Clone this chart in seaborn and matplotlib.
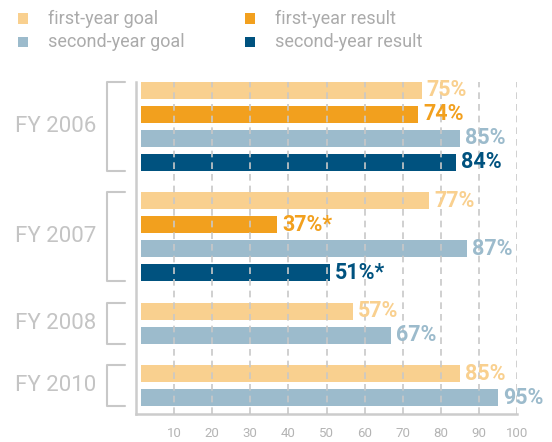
import matplotlib
matplotlib.use('Agg')
import matplotlib.pyplot as plt
import pandas as pd
import seaborn as sns

# chart values
groups = ['FY 2006', 'FY 2007', 'FY 2008', 'FY 2010']
first_goal = [75, 77, 57, 85]
first_result = [74, 37, None, None]
second_goal = [85, 87, 67, 95]
second_result = [84, 51, None, None]
notes = ['', '*', '', '']

series_names = ['first-year goal', 'first-year result',
                'second-year goal', 'second-year result']
series_values = [first_goal, first_result, second_goal, second_result]
colors = ['#F9D08F', '#F2A01E', '#9CBBCC', '#00527F']
palette = dict(zip(series_names, colors))

ticks = [10, 20, 30, 40, 50, 60, 70, 80, 90, 100]

sns.set_style('white')
plt.rcParams['font.family'] = ['Roboto', 'DejaVu Sans']

# long table, one row per bar, stacked down each group
rows = []
start = 0
group_gap = 1.6
for gi, g in enumerate(groups):
    i = 0
    for name, vals in zip(series_names, series_values):
        v = vals[gi]
        if v is None:
            continue
        note = notes[gi] if 'result' in name else ''
        rows.append({'group': g, 'series': name, 'value': v,
                     'pos': start + i, 'label': f'{v}%{note}'})
        i += 1
    start += i - 1 + group_gap
df = pd.DataFrame(rows)

bar_h = 0.71
fig = plt.figure(figsize=(5.52, 4.42), dpi=100)
ax = fig.add_axes([0.2464, 0.0633, 0.6902, 0.7512])

sns.barplot(data=df, x='value', y='pos', hue='series', palette=palette,
            orient='y', native_scale=True, dodge=False, width=bar_h,
            saturation=1, linewidth=0, legend=False, ax=ax)

# small white gap between axis and bars
ax.axvspan(0, 1.3, color='white', zorder=1.5, lw=0)

ax.set_xlim(0, 100)
ax.set_ylim(13.48, -0.354)
ax.set_xticks(ticks)
ax.set_yticks([])
ax.set_xlabel('')
ax.set_ylabel('')
ax.tick_params(axis='x', length=0, pad=9, labelsize=9.5, labelcolor='#b4b4b4')

ax.grid(axis='x', linestyle=(0, (4, 3)), color='#c8c8c8', lw=1.2)
ax.grid(axis='y', visible=False)
ax.set_axisbelow(False)
for s in ['top', 'right']:
    ax.spines[s].set_visible(False)
for s in ['left', 'bottom']:
    ax.spines[s].set_color('#cccccc')
    ax.spines[s].set_linewidth(1.8)

# value labels
for _, r in df.iterrows():
    ax.text(r['value'] + 1.3, r['pos'], r['label'], ha='left', va='center',
            color=palette[r['series']], fontsize=15.5, fontweight='bold',
            clip_on=False, zorder=4)

# group brackets and labels
trans = ax.get_yaxis_transform()
for g in groups:
    sub = df[df['group'] == g]
    top = sub['pos'].min() - bar_h / 2
    bot = sub['pos'].max() + bar_h / 2
    ax.plot([-0.029, -0.076, -0.076, -0.029], [top, top, bot, bot],
            color='#c8c8c8', lw=1.5, transform=trans, clip_on=False)
    ax.text(-0.105, (top + bot) / 2, g, ha='right', va='center',
            fontsize=16, color='#c4c4c4', transform=trans)

# legend
leg_x = [18, 245]
leg_y = [18.5, 42]
for k, name in enumerate(series_names):
    cx = leg_x[k % 2]
    cy = leg_y[k // 2]
    fig.patches.append(plt.Rectangle((cx / 552, 1 - (cy + 5) / 442),
                                     10 / 552, 10 / 442,
                                     transform=fig.transFigure,
                                     color=palette[name], lw=0))
    fig.text((cx + 30) / 552, 1 - cy / 442, name, ha='left', va='center',
             fontsize=13, color='#ababab')

fig.savefig('out.png', dpi=100)
